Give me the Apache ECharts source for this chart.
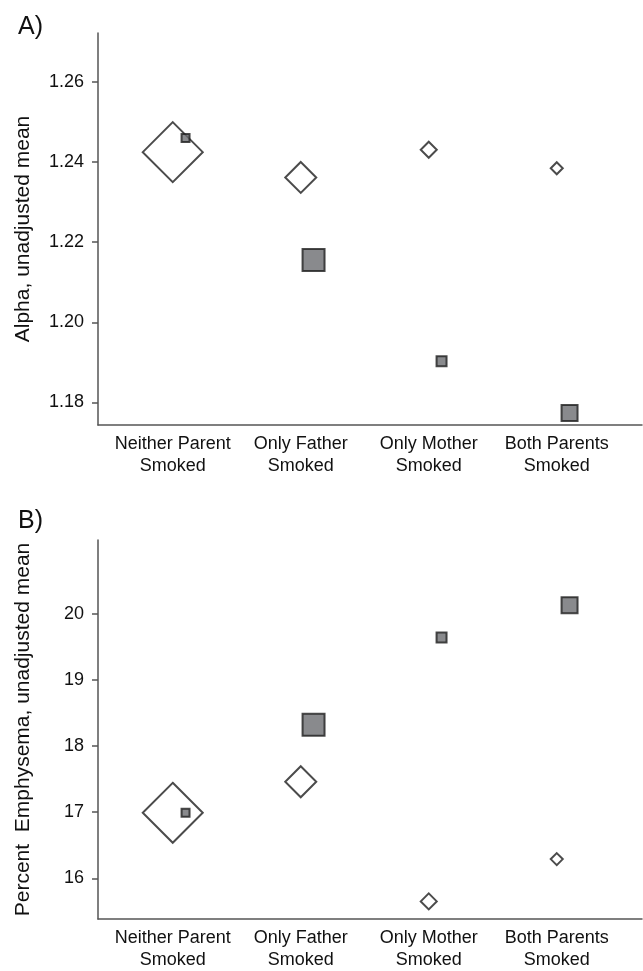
<!DOCTYPE html>
<html>
<head>
<meta charset="UTF-8"/>
<script src="https://cdn.jsdelivr.net/npm/echarts@6/dist/echarts.min.js"></script>
<style type="text/css">
	html, body { margin:0; padding:0; background:#fff; }
	#main { width:643px; height:971px; }
</style>
</head>
<body>
<div id="main"></div>
<script type="text/javascript">

// categories (x positions 1..4, squares drawn 0.1 to the right)
var groups = ['Neither Parent\nSmoked', 'Only Father\nSmoked', 'Only Mother\nSmoked', 'Both Parents\nSmoked'];

// panel A: alpha, unadjusted mean
var alphaDiamond = [1.2424, 1.2361, 1.2430, 1.2384];
var alphaSquare  = [1.2459, 1.2155, 1.1903, 1.1774];
var alphaTicks   = [1.18, 1.20, 1.22, 1.24, 1.26];

// panel B: percent emphysema, unadjusted mean
var emphDiamond = [16.99, 17.46, 15.65, 16.29];
var emphSquare  = [16.99, 18.32, 19.64, 20.13];
var emphTicks   = [16, 17, 18, 19, 20];

// marker sizes (px)
var diamondSize = [60, 31, 16, 12];
var squareSize  = [8, 22, 10, 16];

var font = 'Liberation Sans, Arial, sans-serif';
var ink = '#1e1e1e';

function pts(vals, off, sizes){
	var out = [];
	for(var i=0;i<vals.length;i++){
		out.push({value:[i+1+off, vals[i]], symbolSize:sizes[i]});
	}
	return out;
}

function xAxisFor(idx){
	return {
		type:'value', gridIndex:idx, min:0.416, max:4.666,
		axisLine:{show:true, lineStyle:{color:'#555', width:1.5}},
		axisTick:{show:false},
		splitLine:{show:false},
		axisLabel:{
			customValues:[1,2,3,4],
			formatter:function(v){ return groups[Math.round(v)-1]; },
			color:'#111', fontSize:18, fontFamily:font, lineHeight:22, margin:8
		}
	};
}

function yAxisFor(idx, min, max, ticks, name, dec){
	return {
		type:'value', gridIndex:idx, min:min, max:max,
		name:name, nameLocation:'middle', nameGap:64,
		nameTextStyle:{color:'#111', fontSize:21, fontFamily:font},
		axisLine:{show:true, lineStyle:{color:'#555', width:1.5}},
		axisTick:{show:true, inside:false, length:6, customValues:ticks, lineStyle:{color:'#555', width:1.5}},
		splitLine:{show:false},
		axisLabel:{
			customValues:ticks,
			formatter:function(v){ return v.toFixed(dec); },
			color:'#111', fontSize:18, fontFamily:font, margin:14
		}
	};
}

var diamondStyle = {color:'#fff', borderColor:ink, borderWidth:2};
var squareStyle  = {color:'#6c6d71', borderColor:ink, borderWidth:2};

var chart = echarts.init(document.getElementById('main'));
chart.setOption({
	animation:false,
	backgroundColor:'#fff',
	title:[
		{text:'A)', left:13, top:10, textStyle:{fontSize:25, fontWeight:'normal', color:'#111', fontFamily:font}},
		{text:'B)', left:13, top:504, textStyle:{fontSize:25, fontWeight:'normal', color:'#111', fontFamily:font}}
	],
	grid:[
		{left:98, top:33, width:544, height:392},
		{left:98, top:540, width:544, height:384}
	],
	xAxis:[xAxisFor(0), xAxisFor(1)],
	yAxis:[
		yAxisFor(0, 1.1744, 1.2721, alphaTicks, 'Alpha, unadjusted mean', 2),
		yAxisFor(1, 15.384, 21.115, emphTicks, 'Percent  Emphysema, unadjusted mean', 0)
	],
	series:[
		{type:'scatter', xAxisIndex:0, yAxisIndex:0, symbol:'diamond', itemStyle:diamondStyle, data:pts(alphaDiamond, 0, diamondSize)},
		{type:'scatter', xAxisIndex:0, yAxisIndex:0, symbol:'rect', itemStyle:squareStyle, data:pts(alphaSquare, 0.1, squareSize)},
		{type:'scatter', xAxisIndex:1, yAxisIndex:1, symbol:'diamond', itemStyle:diamondStyle, data:pts(emphDiamond, 0, diamondSize)},
		{type:'scatter', xAxisIndex:1, yAxisIndex:1, symbol:'rect', itemStyle:squareStyle, data:pts(emphSquare, 0.1, squareSize)}
	]
});
</script>
</body>
</html>
